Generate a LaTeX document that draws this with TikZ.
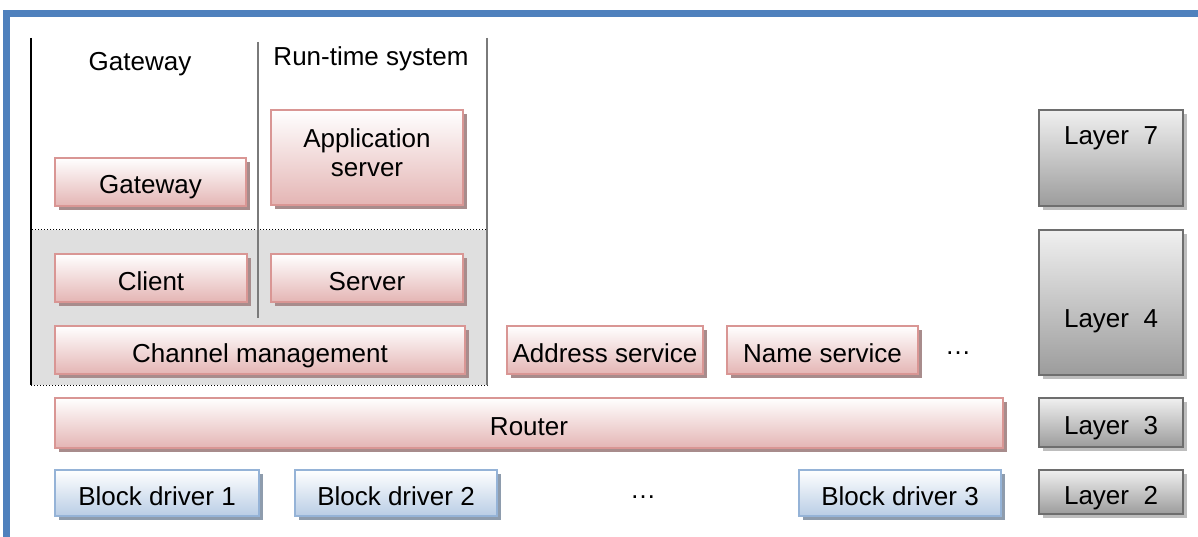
\documentclass[tikz,border=0pt]{standalone}
\usepackage{fontspec}
\setmainfont{Liberation Sans}
\usetikzlibrary{shadows}
\definecolor{frameblue}{HTML}{4F81BD}
\definecolor{pinkbot}{HTML}{E4B5B4}
\definecolor{pinkline}{HTML}{D99694}
\definecolor{pinkshadow}{HTML}{A88C8C}
\definecolor{bluebot}{HTML}{B9CDE5}
\definecolor{blueline}{HTML}{95B3D7}
\definecolor{blueshadow}{HTML}{8E9CAD}
\definecolor{graytop}{HTML}{F0F0F0}
\definecolor{graybot}{HTML}{9C9C9C}
\definecolor{grayline}{HTML}{6E6E6E}
\definecolor{grayshadow}{HTML}{BDBDBD}
\definecolor{regionfill}{HTML}{DFDFDF}
\definecolor{sepgray}{HTML}{7A7A7A}
\tikzset{
  basebox/.style={rectangle, line width=2pt, inner sep=0pt, align=center,
    text height=24pt, text depth=0pt,
    font=\fontsize{26}{29}\selectfont},
  pinkbox/.style={basebox, draw=pinkline, top color=white, bottom color=pinkbot,
    drop shadow={shadow xshift=4pt, shadow yshift=-4pt, fill=pinkshadow, opacity=1}},
  bluebox/.style={basebox, draw=blueline, top color=white, bottom color=bluebot,
    drop shadow={shadow xshift=4pt, shadow yshift=-4pt, fill=blueshadow, opacity=1}},
  graybox/.style={basebox, draw=grayline, top color=graytop, bottom color=graybot,
    drop shadow={shadow xshift=4pt, shadow yshift=-4pt, fill=grayshadow, opacity=1}},
  txt/.style={inner sep=0pt, font=\fontsize{26}{29}\selectfont, align=center},
}
\begin{document}
\begin{tikzpicture}[x=1pt,y=-1pt]
\useasboundingbox (0,0) rectangle (1198,537);
\fill[white] (0,0) rectangle (1198,537);
% frame
\draw[frameblue, line width=6.5pt] (6.5,540) -- (6.5,13.5) -- (1201,13.5);
% grey region
\node[draw=black, dotted, line width=1pt, fill=regionfill, minimum width=456pt, minimum height=155pt, inner sep=0pt] (region) at (259,307.5) {};
% separators
\coordinate (s1t) at (31,38); \coordinate (s1b) at (31,385);
\coordinate (s2t) at (258,42); \coordinate (s2b) at (258,318);
\coordinate (s3t) at (487,38); \coordinate (s3b) at (487,385);
\draw[black, line width=1.8pt] (s1t) -- (s1b);
\draw[sepgray, line width=2pt] (s2t) -- (s2b);
\draw[sepgray, line width=2pt] (s3t) -- (s3b);
% headers
\node[txt] (hgw) at (140,64) {Gateway};
\node[txt] (hrt) at (371,59) {Run-time system};
% pink boxes
\node[pinkbox, minimum width=191pt, minimum height=48pt] (gw) at (150.5,182) {Gateway};
\node[pinkbox, minimum width=192pt, minimum height=95pt] (app) at (367,157.5) {};
\node[txt] (appt) at (367,153) {Application\\server};
\node[pinkbox, minimum width=192pt, minimum height=48pt] (cl) at (151,278) {Client};
\node[pinkbox, minimum width=192pt, minimum height=48pt] (sv) at (367,278) {Server};
\node[pinkbox, minimum width=410pt, minimum height=48pt] (ch) at (260,350) {Channel management};
\node[pinkbox, minimum width=196pt, minimum height=48pt] (addr) at (605,350) {Address service};
\node[pinkbox, minimum width=191pt, minimum height=48pt] (name) at (822.5,350) {Name service};
\node[txt] (dots1) at (958,353) {\dots};
\node[pinkbox, minimum width=948pt, minimum height=50pt] (router) at (529,423) {Router};
% blue boxes
\node[bluebox, minimum width=204pt, minimum height=46pt] (bd1) at (157,493) {Block driver 1};
\node[bluebox, minimum width=202pt, minimum height=46pt] (bd2) at (396,493) {Block driver 2};
\node[txt] (dots2) at (643,497) {\dots};
\node[bluebox, minimum width=202pt, minimum height=46pt] (bd3) at (900,493) {Block driver 3};
% layers
\node[graybox, minimum width=144pt, minimum height=96pt] (l7) at (1111,158) {};
\node[txt] (l7t) at (1111,138) {Layer\ \ 7};
\node[graybox, minimum width=144pt, minimum height=145pt] (l4) at (1111,302.5) {};
\node[txt] (l4t) at (1111,321) {Layer\ \ 4};
\node[graybox, minimum width=144pt, minimum height=49pt] (l3) at (1111,422.5) {Layer\ \ 3};
\node[graybox, minimum width=144pt, minimum height=44pt] (l2) at (1111,492) {Layer\ \ 2};
\end{tikzpicture}
\end{document}
